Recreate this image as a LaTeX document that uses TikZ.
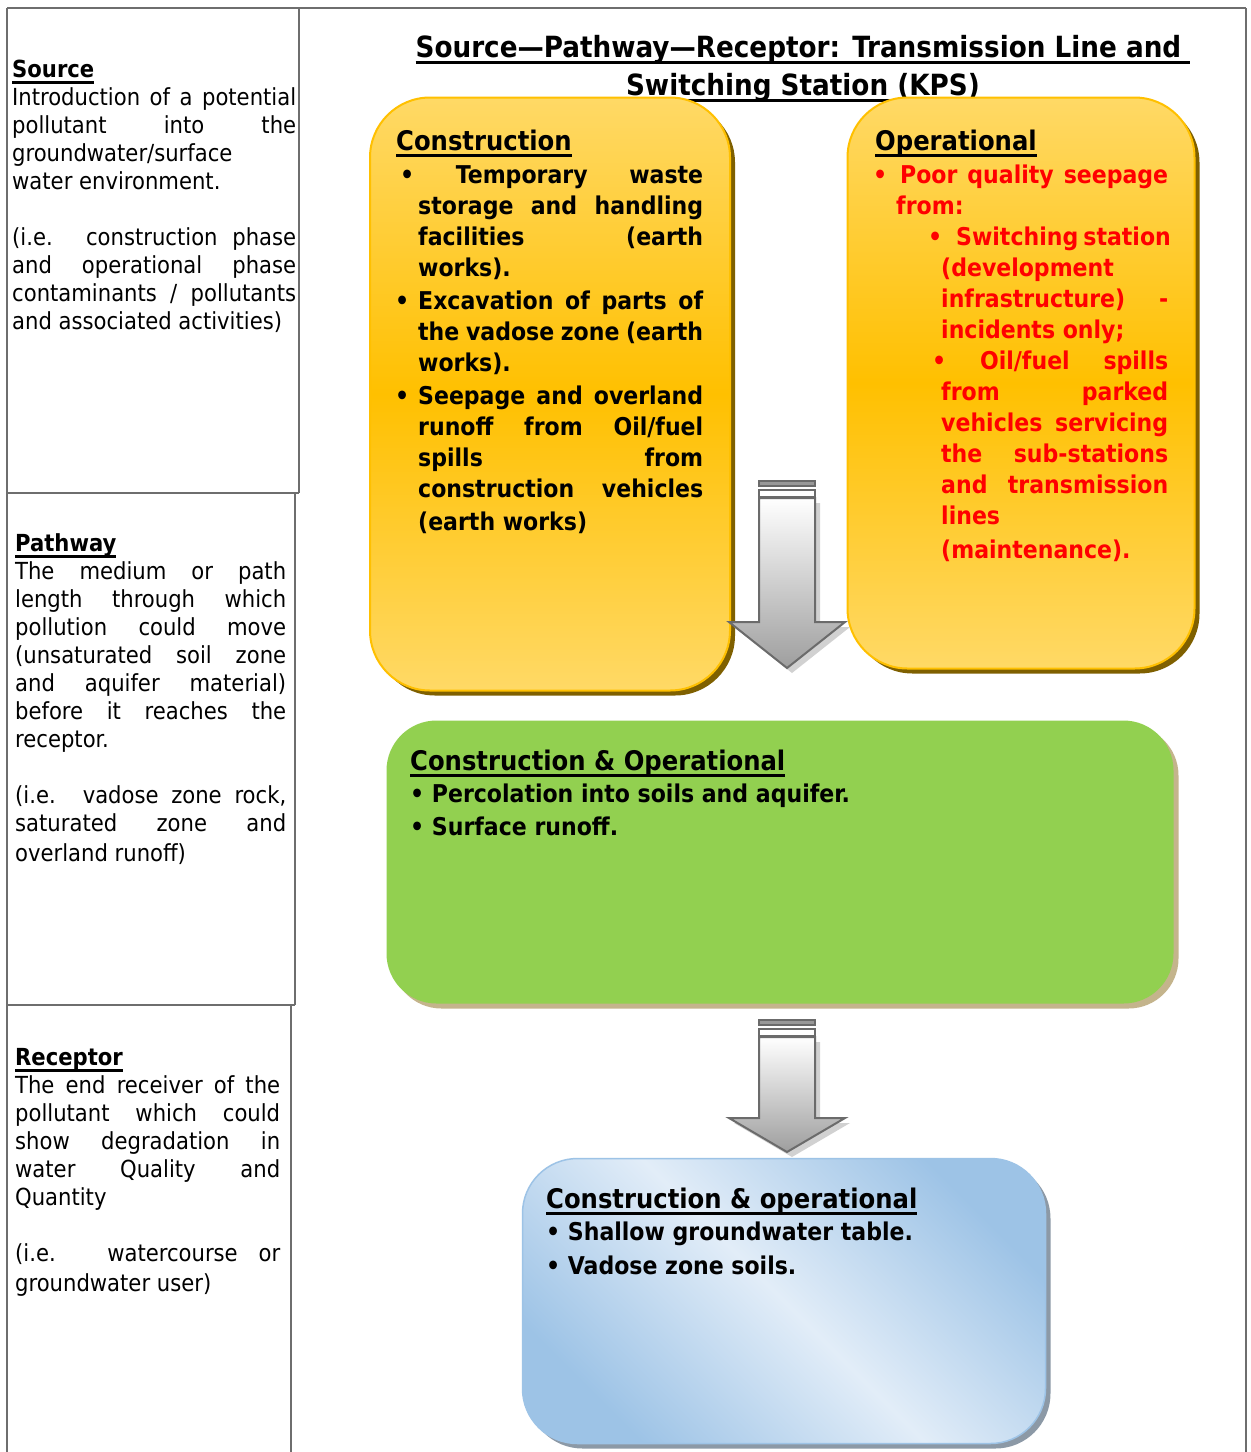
\documentclass[tikz,border=0pt]{standalone}
\usepackage{fontspec}
\setmainfont{DejaVu Sans Condensed}
\usetikzlibrary{shadows}

\definecolor{ylight}{HTML}{FFD966}
\definecolor{ydeep}{HTML}{FFC000}
\definecolor{yshade}{HTML}{7F6000}
\definecolor{leaf}{HTML}{92D050}
\definecolor{leafshade}{HTML}{C4B48C}
\definecolor{bdark}{HTML}{9DC3E6}
\definecolor{blight}{HTML}{E2EDF8}
\definecolor{bshade}{HTML}{8C99A6}
\definecolor{tablegray}{HTML}{6E6E6E}
\definecolor{alert}{HTML}{FF0000}

% underlined headings
\newcommand{\hd}[1]{\leavevmode\setbox0\hbox{#1}\rlap{\rule[-6.5pt]{\wd0}{2.5pt}}\box0}
% one justified line, one bullet hung left of the text
\newcommand{\jl}[2][\hsize]{\makebox[#1][s]{#2}}
\newcommand{\bul}{\llap{\textbullet\hspace{9pt}}}
\makeatletter
\newcommand{\colpar}[2]{\vtop{\let\\\@normalcr\hsize=#1\parindent=0pt\relax\leavevmode#2}}
\makeatother

\tikzset{
  gridline/.style={draw=tablegray, line width=1.5pt},
  titletext/.style={anchor=base, inner sep=0pt, font=\bfseries\fontsize{29.2}{38}\selectfont},
  colnote/.style={anchor=base west, inner sep=0pt, font=\fontsize{23.5}{28}\selectfont},
  boxhead/.style={anchor=base west, inner sep=0pt, font=\bfseries\fontsize{27}{31}\selectfont},
  boxtext/.style={anchor=base west, inner sep=0pt, font=\bfseries\fontsize{24.5}{31}\selectfont},
  ybox/.style={rounded corners=60pt, draw=ydeep, line width=2pt, inner sep=0pt,
    top color=ylight, bottom color=ylight, middle color=ydeep,
    drop shadow={shadow xshift=5pt, shadow yshift=-5pt, fill=yshade, opacity=1}},
  gbox/.style={rounded corners=50pt, fill=leaf, inner sep=0pt,
    drop shadow={shadow xshift=5pt, shadow yshift=-5pt, fill=leafshade, opacity=1}},
  bbox/.style={rounded corners=55pt, draw=bdark, line width=1.5pt, inner sep=0pt,
    top color=bdark, bottom color=bdark, middle color=blight, shading angle=-45,
    drop shadow={shadow xshift=5pt, shadow yshift=-5pt, fill=bshade, opacity=1}},
  arrowline/.style={draw=black!58, line width=2pt},
  arrowfill/.style={top color=white, bottom color=black!38,
    drop shadow={shadow xshift=5pt, shadow yshift=-5pt, fill=black!18, opacity=1}},
  pics/bigarrow/.style 2 args={code={
    \draw[arrowline, fill=black!40] (-28,0) rectangle (28,5);
    \draw[arrowline, fill=white] (-28,9) rectangle (28,16);
    \shadedraw[arrowline, arrowfill] (-28,17) -- (28,17) -- (28,#1) -- (58,#1)
      -- (0,#1+#2) -- (-58,#1) -- (-28,#1) -- cycle;
  }}
}

\begin{document}
\begin{tikzpicture}[x=1pt, y=-1pt]
\fill[white] (0,0) rectangle (1251,1452);
\useasboundingbox (0,0) rectangle (1251,1452);

% table frame
\draw[gridline] (7,8) -- (1246,8);
\draw[gridline] (7,8) -- (7,1452);
\draw[gridline] (1246,8) -- (1246,1452);
\draw[gridline] (299,8) -- (299,493) (295,493) -- (295,1005) (291,1005) -- (291,1452);
\draw[gridline] (7,493) -- (299,493) (7,1005) -- (295,1005);

% left column
\node[colnote] (srctxt) at (12,77) {\colpar{284pt}{\hd{\textbf{Source}}\\
  \jl{Introduction of a potential}\\
  \jl{pollutant into the}\\
  groundwater/surface\\
  water environment.\\
  \mbox{}\\
  \jl{(i.e. construction phase}\\
  \jl{and operational phase}\\
  \jl{contaminants / pollutants}\\
  \mbox{and associated activities)}}};
\node[colnote] (pathtxt) at (15,551) {\colpar{271pt}{\hd{\textbf{Pathway}}\\
  \jl{The medium or path}\\
  \jl{length through which}\\
  \jl{pollution could move}\\
  \jl{(unsaturated soil zone}\\
  \jl{and aquifer material)}\\
  \jl{before it reaches the}\\
  receptor.\\
  \mbox{}\\
  \jl{(i.e. vadose zone rock,}\\
  \jl{saturated zone and}\\[2pt]
  \mbox{overland runoff)}}};
\node[colnote] (rectxt) at (15,1065) {\colpar{265pt}{\hd{\textbf{Receptor}}\\
  \jl{The end receiver of the}\\
  \jl{pollutant which could}\\
  \jl{show degradation in}\\
  \jl{water Quality and}\\
  Quantity\\
  \mbox{}\\
  \jl{(i.e. watercourse or}\\[2pt]
  \mbox{groundwater user)}}};

% title
\node[titletext] (ttl) at (803,57) {\colpar{900pt}{\centering
  \hd{Source—Pathway—Receptor: Transmission Line and\ }\\
  \hd{Switching Station (KPS)}}};

% source boxes
\node[ybox, minimum width=360pt, minimum height=593pt] (constr) at (550,394) {};
\node[ybox, minimum width=347pt, minimum height=571pt] (oper) at (1021,383) {};

\node[boxhead] (constrhd) at (396,150) {\hd{Construction}};
\node[boxtext] (constrtxt) at (418,183) {\colpar{285pt}{%
  \hspace*{-18pt}\jl[303pt]{\textbullet{} Temporary waste}\\
  \jl{storage and handling}\\
  \jl{facilities (earth}\\
  works).\\[2pt]
  \bul\jl{Excavation of parts of}\\
  \jl{the vadose zone (earth}\\
  works).\\[2pt]
  \bul\jl{Seepage and overland}\\
  \jl{runoff from Oil/fuel}\\
  \jl{spills from}\\
  \jl{construction vehicles}\\[2pt]
  \mbox{(earth works)}}};

\node[boxhead] (operhd) at (875,150) {\hd{Operational}};
\node[boxtext, text=alert] (opertxt) at (896,183) {\colpar{272pt}{%
  \bul\hspace*{4pt}\jl[268pt]{Poor quality seepage}\\
  from:\\
  \hspace*{60pt}\llap{\textbullet\hspace{14pt}}\jl[212pt]{Switching station}\\
  \hspace*{45pt}(development\\
  \hspace*{45pt}\jl[227pt]{infrastructure) -}\\
  \hspace*{45pt}\mbox{incidents only;}\\
  \hspace*{36pt}\jl[236pt]{\textbullet{} Oil/fuel spills}\\
  \hspace*{45pt}\jl[227pt]{from parked}\\
  \hspace*{45pt}\jl[227pt]{vehicles servicing}\\
  \hspace*{45pt}\jl[227pt]{the sub-stations}\\
  \hspace*{45pt}\jl[227pt]{and transmission}\\
  \hspace*{45pt}lines\\[3pt]
  \hspace*{45pt}(maintenance).}};

% pathway box
\node[gbox, minimum width=787pt, minimum height=283pt] (pathbox) at (780,862) {};
\node[boxhead] (pathhd) at (410,770) {\hd{Construction \& Operational}};
\node[boxtext, font=\bfseries\fontsize{24.5}{33}\selectfont] (pathtxt2) at (410,802)
  {\colpar{700pt}{\textbullet{} Percolation into soils and aquifer.\\
  \textbullet{} Surface runoff.}};

% receptor box
\node[bbox, minimum width=523pt, minimum height=285pt] (recbox) at (784,1301) {};
\node[boxhead] (rechd) at (546,1208) {\hd{Construction \& operational}};
\node[boxtext, font=\bfseries\fontsize{24.5}{34}\selectfont] (rectxt2) at (546,1240)
  {\colpar{480pt}{\textbullet{} Shallow groundwater table.\\
  \textbullet{} Vadose zone soils.}};

% block arrows
\pic at (787,481) {bigarrow={141}{46}};
\pic at (787,1020) {bigarrow={98}{34}};
\end{tikzpicture}
\end{document}
